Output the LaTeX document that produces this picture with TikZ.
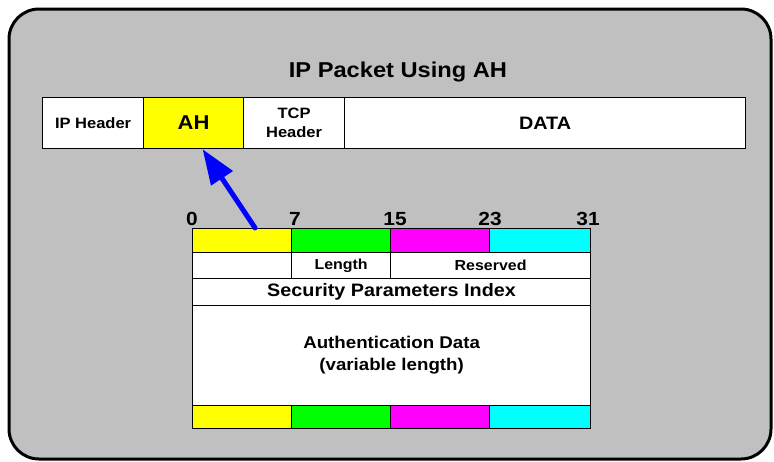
\documentclass[tikz,border=0pt]{standalone}
\usepackage{fontspec}
\setmainfont{Liberation Sans}[FakeStretch=1.1]
\usetikzlibrary{arrows.meta}
\definecolor{panel}{HTML}{C0C0C0}
\definecolor{ahyel}{HTML}{FFFF00}
\definecolor{ahgrn}{HTML}{00FF00}
\definecolor{ahmag}{HTML}{FF00FF}
\definecolor{ahcyn}{HTML}{00FFFF}

\begin{document}
\begin{tikzpicture}[x=1pt, y=-1pt,
  cell/.style = {draw, line width=1.2pt, fill=white, inner sep=0pt, anchor=north west, align=center},
  txt/.style = {font=\bfseries\fontsize{#1}{#1}\selectfont},
  bit/.style = {anchor=base, inner sep=0pt, font=\bfseries\fontsize{19}{19}\selectfont}]
\def\frame{(9,9) rectangle (771,459)}
\fill[white] (0,0) rectangle (774,461);
\useasboundingbox (0,0) rectangle (774,461);
\draw[line width=3pt, fill=panel, rounded corners=30pt] \frame;
\node[anchor=base, font=\bfseries\fontsize{21.5}{21.5}\selectfont] (title) at (398,77) {IP Packet Using AH};
\node[cell, minimum width=101, minimum height=51, font=\bfseries\fontsize{15}{15}\selectfont] (iph) at (42,97) {IP Header};
\node[cell, fill=ahyel, minimum width=100, minimum height=51, font=\bfseries\fontsize{20}{20}\selectfont] (ah) at (143,97) {AH};
\node[cell, minimum width=101, minimum height=51, font=\bfseries\fontsize{15}{19}\selectfont] (tcp) at (243,97) {TCP\\Header};
\node[cell, minimum width=401, minimum height=51, font=\bfseries\fontsize{18}{18}\selectfont] (data) at (344,97) {DATA};
\foreach \x/\c/\w [count=\i] in {192/ahyel/99, 291/ahgrn/99, 390/ahmag/99, 489/ahcyn/101} {
  \node[cell, fill=\c, minimum width=\w, minimum height=24] (top\i) at (\x,228) {};
  \node[cell, fill=\c, minimum width=\w, minimum height=23] (bot\i) at (\x,405) {};
}
\foreach \x/\b in {192/0, 295/7, 395/15, 490/23, 588/31}
  \node[bit] (bit\b) at (\x,225) {\b};
\node[cell, minimum width=99, minimum height=26] (nxt) at (192,252) {};
\node[cell, minimum width=99, minimum height=26, font=\bfseries\fontsize{14.5}{14.5}\selectfont] (len) at (291,252) {Length};
\node[cell, minimum width=200, minimum height=26, font=\bfseries\fontsize{14.5}{14.5}\selectfont] (rsv) at (390,252) {Reserved};
\node[cell, minimum width=398, minimum height=27, font=\bfseries\fontsize{18}{18}\selectfont] (spi) at (192,278) {Security Parameters Index};
\node[cell, minimum width=398, minimum height=100, font=\bfseries\fontsize{17}{22}\selectfont] (auth) at (192,305) {Authentication Data\\(variable length)};
\draw[blue, line width=5pt, line cap=round, -{Triangle[length=35pt, width=25pt]}] ([xshift=13pt]top1.north) -- ([xshift=9pt]ah.south);
\end{tikzpicture}
\end{document}
